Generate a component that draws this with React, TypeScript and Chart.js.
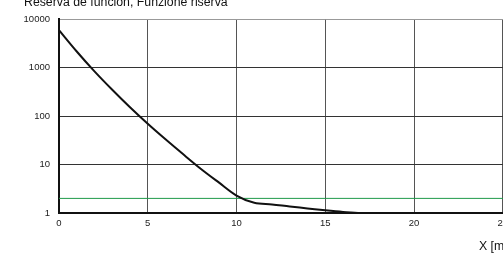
import React, { useEffect, useRef } from "react";
import { Chart, registerables } from "chart.js";

Chart.register(...registerables);

const titleText = "Reserva de función, Funzione riserva";
const xAxisLabel = "X [m]";
const xValues = [0, 1, 2, 3, 4, 5, 6, 7, 8, 9, 10, 11, 12, 13, 14, 15, 16, 17, 17.9];
const reserveValues = [5890, 2140, 832, 347, 151, 69, 33, 16.2, 8.1, 4.27, 2.29, 1.62, 1.5, 1.36, 1.245, 1.135, 1.05, 1.0, 1.0];
const thresholdX = [0, 30];
const thresholdY = [2, 2];
const xTicks = [0, 5, 10, 15, 20, 25, 30];
const yTicks = [1, 10, 100, 1000, 10000];

const FONT = "'Liberation Sans', Arial, Helvetica, sans-serif";

const textPlugin = {
  id: "textPlugin",
  afterDraw(chart: any) {
    const ctx = chart.ctx;
    ctx.save();
    ctx.fillStyle = "#111";
    ctx.textBaseline = "alphabetic";
    ctx.textAlign = "left";
    ctx.font = `12.3px ${FONT}`;
    ctx.fillText(titleText, 24, 6);
    ctx.fillText(xAxisLabel, 479, 250);
    ctx.restore();
  },
};

export default function App() {
  const ref = useRef<HTMLCanvasElement | null>(null);
  useEffect(() => {
    if (!ref.current) return;
    const chart = new Chart(ref.current, {
      type: "line",
      data: {
        datasets: [
          {
            data: xValues.map((x, i) => ({ x, y: reserveValues[i] })),
            borderColor: "#111",
            borderWidth: 2,
            pointRadius: 0,
            cubicInterpolationMode: "monotone",
            fill: false,
          },
          {
            data: thresholdX.map((x, i) => ({ x, y: thresholdY[i] })),
            borderColor: "#1f9a4a",
            borderWidth: 1,
            pointRadius: 0,
            fill: false,
          },
        ],
      },
      options: {
        responsive: false,
        animation: false,
        layout: { padding: { top: 19, left: 0, right: 18.5, bottom: 0 } },
        plugins: { legend: { display: false }, title: { display: false }, tooltip: { enabled: false } },
        scales: {
          x: {
            type: "linear",
            min: 0,
            max: 30,
            afterBuildTicks: (s: any) => {
              s.ticks = xTicks.map((v) => ({ value: v }));
            },
            afterFit: (s: any) => {
              s.height = 42;
            },
            ticks: {
              font: { family: FONT, size: 9.5 },
              color: "#222",
              padding: 5,
              maxRotation: 0,
            },
            grid: { color: "#555", lineWidth: 1, drawTicks: false },
            border: { display: true, color: "#111", width: 2 },
          },
          y: {
            type: "logarithmic",
            min: 1,
            max: 10000,
            afterBuildTicks: (s: any) => {
              s.ticks = yTicks.map((v) => ({ value: v }));
            },
            afterFit: (s: any) => {
              s.width = 59;
            },
            ticks: {
              font: { family: FONT, size: 9.5 },
              color: "#222",
              padding: 9,
              callback: (v: any) => String(v),
            },
            grid: {
              color: (c: any) => (c.tick && c.tick.value === 10000 ? "#999" : "#333"),
              lineWidth: 1,
              drawTicks: false,
            },
            border: { display: true, color: "#111", width: 2 },
          },
        },
      },
      plugins: [textPlugin],
    } as any);
    return () => chart.destroy();
  }, []);
  return (
    <div style={{ position: "absolute", left: 0, top: 0, width: 503, height: 255, overflow: "hidden", background: "#fff" }}>
      <canvas ref={ref} width={610} height={255} style={{ display: "block" }} />
    </div>
  );
}
